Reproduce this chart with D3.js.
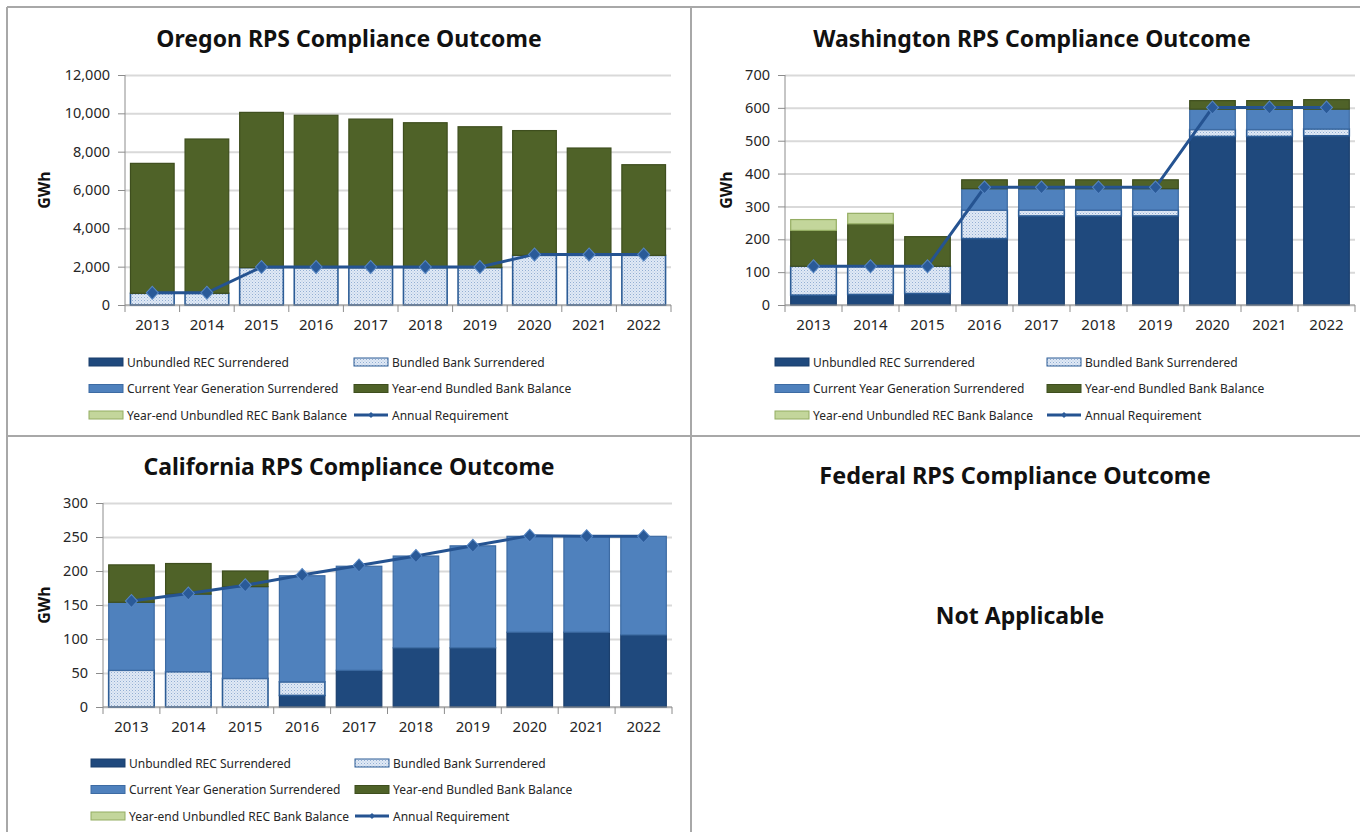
<!DOCTYPE html>
<html>
<head>
<meta charset="utf-8">
<script src="https://cdn.jsdelivr.net/npm/d3@7"></script>
<style>
  body { margin: 0; background: #fff; }
  svg { display: block; font-family: "Noto Sans", sans-serif; }
</style>
</head>
<body>
<svg id="chart" width="1360" height="832"></svg>
<script>
const years = ["2013", "2014", "2015", "2016", "2017", "2018", "2019", "2020", "2021", "2022"]
const seriesKeys = [
  "Unbundled REC Surrendered",
  "Bundled Bank Surrendered",
  "Current Year Generation Surrendered",
  "Year-end Bundled Bank Balance",
  "Year-end Unbundled REC Bank Balance"
]
const lineName = "Annual Requirement"

// Oregon (GWh)
const orUnbundled       = [0, 0, 0, 0, 0, 0, 0, 0, 0, 0]
const orBundled         = [610, 610, 1950, 1950, 1950, 1950, 1950, 2590, 2590, 2590]
const orCurrent         = [0, 0, 0, 0, 0, 0, 0, 0, 0, 0]
const orBundledBalance  = [6780, 8050, 8100, 7950, 7750, 7560, 7350, 6510, 5600, 4730]
const orUnbundledBalance = [0, 0, 0, 0, 0, 0, 0, 0, 0, 0]
const orRequirement     = [640, 640, 1980, 1980, 1980, 1980, 1980, 2640, 2640, 2640]
const orTicks = [0, 2000, 4000, 6000, 8000, 10000, 12000]

// Washington (GWh)
const waUnbundled       = [30, 32, 35, 202, 271, 271, 271, 513, 513, 515]
const waBundled         = [88, 86, 83, 87, 18, 18, 18, 21, 21, 21]
const waCurrent         = [0, 0, 0, 65, 65, 65, 65, 62, 62, 60]
const waBundledBalance  = [109, 129, 90, 27, 27, 27, 27, 26, 26, 29]
const waUnbundledBalance = [33, 32, 0, 0, 0, 0, 0, 0, 0, 0]
const waRequirement     = [118, 118, 118, 358, 358, 358, 358, 601, 601, 601]
const waTicks = [0, 100, 200, 300, 400, 500, 600, 700]

// California (GWh)
const caUnbundled       = [0, 0, 0, 17, 54, 87, 87, 110, 110, 106]
const caBundled         = [54, 52, 42, 20, 0, 0, 0, 0, 0, 0]
const caCurrent         = [100, 114, 135, 156, 153, 135, 150, 141, 141, 145]
const caBundledBalance  = [55, 45, 23, 0, 0, 0, 0, 0, 0, 0]
const caUnbundledBalance = [0, 0, 0, 0, 0, 0, 0, 0, 0, 0]
const caRequirement     = [156, 167, 179, 194, 208, 222, 237, 252, 251, 251]
const caTicks = [0, 50, 100, 150, 200, 250, 300]

const fills   = ["#1f497d", "url(#dots)", "#4f81bd", "#4f6228", "#c3d69b"]
const strokes = ["#1b3f6d", "#2d5d96", "#3d6ba3", "#3e4e1e", "#94ad63"]
const lineColor = "#255391"

const svg = d3.select("#chart")

const defs = svg.append("defs")
const pat = defs.append("pattern")
    .attr("id", "dots")
    .attr("width", 3).attr("height", 3)
    .attr("patternUnits", "userSpaceOnUse")
pat.append("rect").attr("width", 3).attr("height", 3).attr("fill", "#e0e9f5")
pat.append("rect").attr("width", 1).attr("height", 1).attr("fill", "#92aed3")
pat.append("rect").attr("x", 1.5).attr("y", 1.5).attr("width", 1).attr("height", 1).attr("fill", "#b2c7e2")

// panel borders
const border = "#a8a8a8"
;[[7, 7, 1360, 7], [7, 436, 1360, 436], [7, 7, 7, 832], [691, 7, 691, 832]].forEach(d => {
  svg.append("line")
      .attr("x1", d[0]).attr("y1", d[1]).attr("x2", d[2]).attr("y2", d[3])
      .attr("stroke", border).attr("stroke-width", 2)
})

const panels = [
  {
    title: "Oregon RPS Compliance Outcome", titleX: 349, titleY: 38,
    x0: 125, x1: 671, yBottom: 305, yTop: 75, ticks: orTicks,
    series: [orUnbundled, orBundled, orCurrent, orBundledBalance, orUnbundledBalance],
    req: orRequirement, gwhX: 44, legendX: 89, legendY: 362, legendCol: 265
  },
  {
    title: "Washington RPS Compliance Outcome", titleX: 1032, titleY: 38,
    x0: 785, x1: 1355, yBottom: 305, yTop: 75, ticks: waTicks,
    series: [waUnbundled, waBundled, waCurrent, waBundledBalance, waUnbundledBalance],
    req: waRequirement, gwhX: 726, legendX: 775, legendY: 362, legendCol: 272
  },
  {
    title: "California RPS Compliance Outcome", titleX: 349, titleY: 466,
    x0: 103, x1: 672, yBottom: 707, yTop: 503, ticks: caTicks,
    series: [caUnbundled, caBundled, caCurrent, caBundledBalance, caUnbundledBalance],
    req: caRequirement, gwhX: 44, legendX: 91, legendY: 763, legendCol: 264
  }
]

const diamond = d3.symbol().type(d3.symbolSquare)

panels.forEach(p => {
  const g = svg.append("g")

  const x = d3.scaleBand()
      .domain(years)
      .range([p.x0, p.x1])
      .paddingInner(0.2)
      .paddingOuter(0.1)
  const y = d3.scaleLinear()
      .domain([0, d3.max(p.ticks)])
      .range([p.yBottom, p.yTop])

  // gridlines
  g.append("g")
      .attr("transform", `translate(${p.x0},0)`)
      .call(d3.axisLeft(y).tickValues(p.ticks).tickSize(-(p.x1 - p.x0)).tickFormat(""))
      .call(a => a.select(".domain").remove())
      .call(a => a.selectAll("line").attr("stroke", "#d9d9d9").attr("stroke-width", 2))

  // stacked bars
  const rows = years.map((yr, i) => {
    const r = { year: yr }
    seriesKeys.forEach((k, s) => { r[k] = p.series[s][i] })
    return r
  })
  const stacked = d3.stack().keys(seriesKeys)(rows)
  stacked.forEach((layer, s) => {
    g.append("g")
        .attr("fill", fills[s])
        .attr("stroke", strokes[s])
        .attr("stroke-width", s === 1 ? 1.6 : 1.2)
      .selectAll("rect")
      .data(layer.filter(d => d[1] - d[0] > 0))
      .join("rect")
        .attr("x", d => x(d.data.year))
        .attr("y", d => y(d[1]))
        .attr("width", x.bandwidth())
        .attr("height", d => y(d[0]) - y(d[1]))
  })

  // y axis
  g.append("g")
      .attr("transform", `translate(${p.x0},0)`)
      .call(d3.axisLeft(y).tickValues(p.ticks).tickSize(7).tickPadding(8).tickFormat(d3.format(",")))
      .call(a => a.select(".domain").attr("stroke", "#8c8c8c").attr("d", `M0,${p.yTop}V${p.yBottom}`))
      .call(a => a.selectAll("line").attr("stroke", "#8c8c8c"))
      .call(a => a.selectAll("text")
          .attr("fill", "#262626").attr("font-size", 14.5).attr("font-family", "Noto Sans"))

  // x axis: labels centred, ticks at category boundaries
  g.append("g")
      .attr("transform", `translate(0,${p.yBottom})`)
      .call(d3.axisBottom(x).tickSize(0).tickPadding(14))
      .call(a => a.select(".domain").attr("stroke", "#8c8c8c").attr("d", `M${p.x0},0H${p.x1}`))
      .call(a => a.selectAll("text")
          .attr("fill", "#262626").attr("font-size", 15).attr("font-family", "Noto Sans"))
  const step = x.step()
  g.append("g")
      .selectAll("line")
      .data(d3.range(years.length + 1))
      .join("line")
        .attr("x1", i => p.x0 + i * step)
        .attr("x2", i => p.x0 + i * step)
        .attr("y1", p.yBottom)
        .attr("y2", p.yBottom + 7)
        .attr("stroke", "#8c8c8c")

  // annual requirement line
  const cx = i => x(years[i]) + x.bandwidth() / 2
  g.append("path")
      .datum(p.req)
      .attr("fill", "none")
      .attr("stroke", lineColor)
      .attr("stroke-width", 3)
      .attr("d", d3.line().x((d, i) => cx(i)).y(d => y(d)))
  g.append("g")
    .selectAll("path")
    .data(p.req)
    .join("path")
      .attr("transform", (d, i) => `translate(${cx(i)},${y(d)}) scale(1,1.08) rotate(45)`)
      .attr("d", diamond.size(72)())
      .attr("fill", "#2a5a98")
      .attr("stroke", "#5585c2")
      .attr("stroke-width", 1)

  // titles
  g.append("text")
      .attr("x", p.titleX).attr("y", p.titleY)
      .attr("text-anchor", "middle").attr("dominant-baseline", "central")
      .attr("font-size", 23).attr("font-weight", "bold").attr("fill", "#111")
      .text(p.title)
  g.append("text")
      .attr("transform", `translate(${p.gwhX},${(p.yTop + p.yBottom) / 2}) rotate(-90)`)
      .attr("text-anchor", "middle").attr("dominant-baseline", "central")
      .attr("font-size", 16).attr("font-weight", "bold").attr("fill", "#111")
      .text("GWh")

  // legend
  const items = seriesKeys.map((k, s) => ({ name: k, s }))
  items.push({ name: lineName, s: -1 })
  const leg = g.append("g")
    .selectAll("g")
    .data(items)
    .join("g")
      .attr("transform", (d, i) => `translate(${p.legendX + (i % 2) * p.legendCol},${p.legendY + Math.floor(i / 2) * 26.5})`)
  leg.filter(d => d.s >= 0).append("rect")
      .attr("x", 0).attr("y", -4).attr("width", 34).attr("height", 8)
      .attr("fill", d => fills[d.s])
      .attr("stroke", d => strokes[d.s])
      .attr("stroke-width", 1)
  leg.filter(d => d.s < 0).append("line")
      .attr("x1", 0).attr("x2", 34).attr("y1", 0).attr("y2", 0)
      .attr("stroke", lineColor).attr("stroke-width", 3)
  leg.filter(d => d.s < 0).append("path")
      .attr("transform", "translate(17,0) rotate(45)")
      .attr("d", diamond.size(18)())
      .attr("fill", "#2a5a98")
  leg.append("text")
      .attr("x", 38).attr("y", 0)
      .attr("dominant-baseline", "central")
      .attr("font-size", 12).attr("fill", "#262626")
      .text(d => d.name)
})

// Federal panel
svg.append("text")
    .attr("x", 1015).attr("y", 475)
    .attr("text-anchor", "middle").attr("dominant-baseline", "central")
    .attr("font-size", 23.4).attr("font-weight", "bold").attr("fill", "#111")
    .text("Federal RPS Compliance Outcome")
svg.append("text")
    .attr("x", 1020).attr("y", 615)
    .attr("text-anchor", "middle").attr("dominant-baseline", "central")
    .attr("font-size", 23).attr("font-weight", "bold").attr("fill", "#111")
    .text("Not Applicable")
</script>
</body>
</html>
